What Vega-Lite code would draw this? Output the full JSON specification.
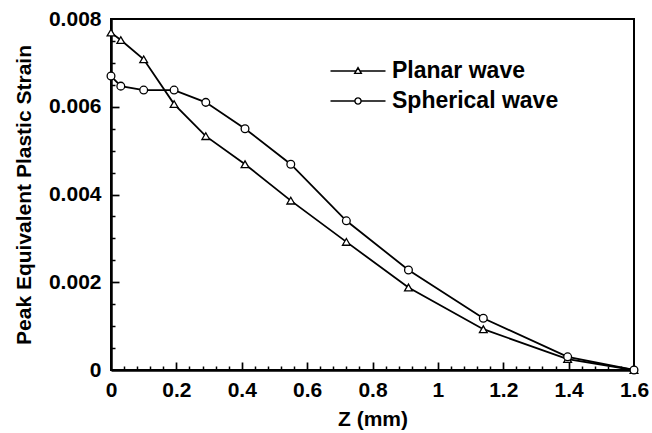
{
  "$schema": "https://vega.github.io/schema/vega-lite/v6.json",
  "autosize": "none",
  "width": 523,
  "height": 351,
  "padding": {"left": 111, "top": 19, "right": 18, "bottom": 63},
  "background": "white",
  "config": {
    "view": {"stroke": "black", "strokeWidth": 2},
    "font": "Liberation Sans",
    "axis": {"labelFont": "Liberation Sans", "titleFont": "Liberation Sans", "labelColor": "black", "titleColor": "black", "tickColor": "black", "domainColor": "black", "grid": false},
    "legend": {"labelFont": "Liberation Sans"}
  },
  "data": {
    "values": [
      {"series": "Planar wave", "z": 0, "strain": 0.00769},
      {"series": "Planar wave", "z": 0.03, "strain": 0.00752},
      {"series": "Planar wave", "z": 0.10, "strain": 0.00708},
      {"series": "Planar wave", "z": 0.193, "strain": 0.00606},
      {"series": "Planar wave", "z": 0.29, "strain": 0.00533},
      {"series": "Planar wave", "z": 0.41, "strain": 0.00469},
      {"series": "Planar wave", "z": 0.55, "strain": 0.00386},
      {"series": "Planar wave", "z": 0.72, "strain": 0.00292},
      {"series": "Planar wave", "z": 0.91, "strain": 0.00188},
      {"series": "Planar wave", "z": 1.139, "strain": 0.00093},
      {"series": "Planar wave", "z": 1.397, "strain": 0.00025},
      {"series": "Planar wave", "z": 1.6, "strain": 0.0},
      {"series": "Spherical wave", "z": 0, "strain": 0.00670},
      {"series": "Spherical wave", "z": 0.03, "strain": 0.00647},
      {"series": "Spherical wave", "z": 0.10, "strain": 0.00638},
      {"series": "Spherical wave", "z": 0.193, "strain": 0.00638},
      {"series": "Spherical wave", "z": 0.29, "strain": 0.00610},
      {"series": "Spherical wave", "z": 0.41, "strain": 0.00550},
      {"series": "Spherical wave", "z": 0.55, "strain": 0.00469},
      {"series": "Spherical wave", "z": 0.72, "strain": 0.00340},
      {"series": "Spherical wave", "z": 0.91, "strain": 0.00228},
      {"series": "Spherical wave", "z": 1.139, "strain": 0.00118},
      {"series": "Spherical wave", "z": 1.397, "strain": 0.00030},
      {"series": "Spherical wave", "z": 1.6, "strain": 0.0}
    ]
  },
  "resolve": {"axis": {"x": "independent", "y": "independent"}, "scale": {"shape": "independent"}},
  "layer": [
    {
      "mark": {"type": "line", "color": "black", "strokeWidth": 1.8},
      "encoding": {
        "x": {"field": "z", "type": "quantitative", "scale": {"domain": [0, 1.6], "nice": false, "zero": false},
          "axis": {"orient": "bottom", "title": "Z (mm)", "titleFontSize": 21, "titleFontWeight": "bold", "titlePadding": 8,
            "values": [0, 0.2, 0.4, 0.6, 0.8, 1, 1.2, 1.4, 1.6], "format": "~g",
            "labelFontSize": 21, "labelFontWeight": "bold", "labelPadding": 9, "ticks": false,
            "domainWidth": 2.5, "labelFlush": false, "labelOverlap": false}},
        "y": {"field": "strain", "type": "quantitative", "scale": {"domain": [0, 0.008], "nice": false},
          "axis": {"orient": "left", "title": "Peak Equivalent Plastic Strain", "titleFontSize": 21, "titleFontWeight": "bold", "titlePadding": 14,
            "values": [0, 0.002, 0.004, 0.006, 0.008], "labelExpr": "datum.value == 0 ? '0' : format(datum.value, '.3f')",
            "labelFontSize": 21, "labelFontWeight": "bold", "labelPadding": 10, "ticks": false,
            "domainWidth": 2.5, "labelFlush": false, "labelOverlap": false}},
        "detail": {"field": "series"}
      }
    },
    {
      "mark": {"type": "point", "filled": true, "fill": "white", "stroke": "black", "strokeWidth": 1.3, "size": 60, "opacity": 1},
      "encoding": {
        "x": {"field": "z", "type": "quantitative",
          "axis": {"orient": "bottom", "title": null, "labels": false, "domain": false, "offset": -4, "tickSize": 4, "tickWidth": 1.5,
            "values": [0.04, 0.08, 0.12, 0.16, 0.24, 0.28, 0.32, 0.36, 0.44, 0.48, 0.52, 0.56, 0.64, 0.68, 0.72, 0.76, 0.84, 0.88, 0.92, 0.96, 1.04, 1.08, 1.12, 1.16, 1.24, 1.28, 1.32, 1.36, 1.44, 1.48, 1.52, 1.56]}},
        "y": {"field": "strain", "type": "quantitative",
          "axis": {"orient": "left", "title": null, "labels": false, "domain": false, "offset": -4, "tickSize": 4, "tickWidth": 1.5,
            "values": [0.0005, 0.001, 0.0015, 0.0025, 0.003, 0.0035, 0.0045, 0.005, 0.0055, 0.0065, 0.007, 0.0075]}},
        "shape": {"field": "series", "type": "nominal", "scale": {"domain": ["Planar wave", "Spherical wave"], "range": ["triangle-up", "circle"]}, "legend": null}
      }
    },
    {
      "mark": {"type": "point", "opacity": 0, "size": 484},
      "encoding": {
        "x": {"field": "z", "type": "quantitative",
          "axis": {"orient": "bottom", "title": null, "labels": false, "domain": false, "offset": -8, "tickSize": 8, "tickWidth": 1.7,
            "values": [0.2, 0.4, 0.6, 0.8, 1, 1.2, 1.4]}},
        "y": {"field": "strain", "type": "quantitative",
          "axis": {"orient": "left", "title": null, "labels": false, "domain": false, "offset": -8, "tickSize": 8, "tickWidth": 1.7,
            "values": [0.002, 0.004, 0.006]}},
        "shape": {"field": "series", "type": "nominal",
          "scale": {"domain": ["Planar wave", "Spherical wave"],
            "range": ["M-2.5,0H-0.22M0.22,0H2.5M0,-0.3L0.3,0.22L-0.3,0.22Z", "M-2.5,0H-0.28M0.28,0H2.5M0.28,0A0.28,0.28,0,1,1,-0.28,0A0.28,0.28,0,1,1,0.28,0Z"]},
          "legend": {"title": null, "orient": "none", "legendX": 235, "legendY": 40, "padding": 0,
            "symbolSize": 484, "symbolOpacity": 1, "symbolStrokeColor": "black", "symbolFillColor": "white", "symbolStrokeWidth": 1.4,
            "labelFontSize": 23, "labelFontWeight": "bold", "labelColor": "black", "labelOffset": 22, "rowPadding": 6, "labelLimit": 400}}
      }
    }
  ]
}
